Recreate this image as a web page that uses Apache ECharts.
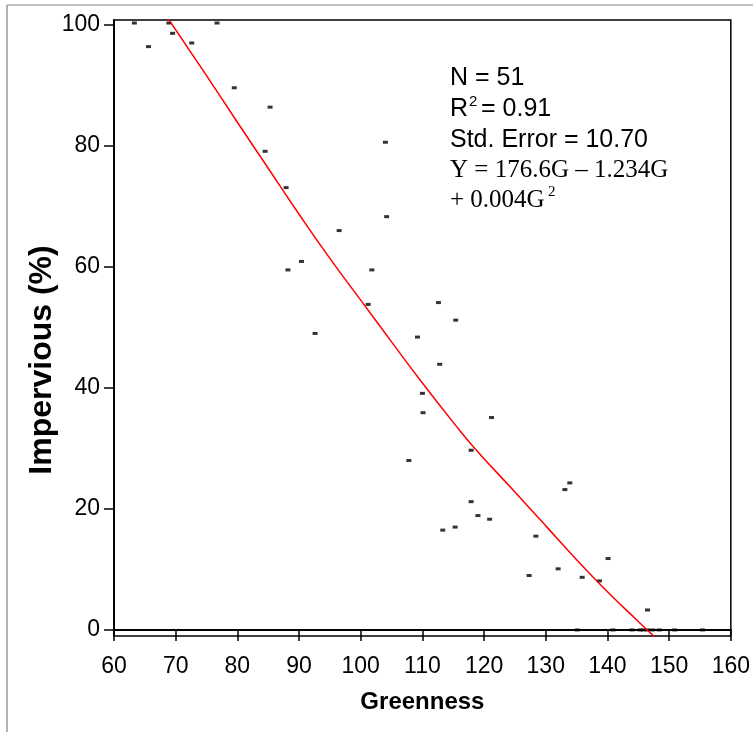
<!DOCTYPE html>
<html>
<head>
<meta charset="utf-8">
<script src="https://cdn.jsdelivr.net/npm/echarts@6/dist/echarts.min.js"></script>
<style>
    html, body { margin: 0; padding: 0; background: #fff; }
    #chart { width: 753px; height: 732px; }
</style>
</head>
<body>
<div id="chart"></div>
<script>
// scatter points
var greenness = [63.3, 65.6, 68.9, 69.5, 72.6, 76.7, 79.5, 84.5, 85.3, 87.9,
    88.2, 90.4, 92.6, 96.5, 101.2, 101.8, 104.0, 104.2, 107.8, 109.2,
    110.0, 110.1, 112.6, 112.8, 113.3, 115.3, 115.4, 117.9, 117.9, 119.0,
    120.9, 121.2, 127.3, 128.4, 132.0, 133.1, 133.9, 135.1, 135.9, 138.7,
    140.1, 140.9, 144.0, 145.3, 145.8, 146.5, 146.5, 147.3, 148.4, 150.9,
    155.4];
var impervious = [100.3, 96.4, 100.3, 98.6, 97.0, 100.3, 89.6, 79.1, 86.4, 73.1,
    59.5, 60.9, 49.0, 66.0, 53.8, 59.5, 80.6, 68.3, 28.0, 48.4,
    39.1, 35.9, 54.1, 43.9, 16.5, 17.0, 51.2, 29.7, 21.2, 18.9,
    18.3, 35.1, 9.0, 15.5, 10.1, 23.2, 24.3, 0, 8.7, 8.1,
    11.8, 0, 0, 0, 0, 3.3, 0, 0, 0, 0,
    0];

// red fitted curve
var fitGreenness = [68.4, 75, 80, 85, 90, 95, 100, 105, 110, 115, 118.5, 125, 130, 135, 140, 145, 147.9];
var fitImpervious = [101.6, 91.6, 83.9, 76.3, 68.7, 61.4, 54.5, 47.6, 40.8, 34.3, 30.0, 22.8, 17.2, 11.6, 6.3, 1.4, -1.4];

var yTicks = [0, 20, 40, 60, 80, 100];

var chart = echarts.init(document.getElementById('chart'), null, {renderer: 'canvas'});

var points = greenness.map(function (g, i) {
    return [g, impervious[i]];
});
var fitLine = fitGreenness.map(function (g, i) {
    return [g, fitImpervious[i]];
});

var sans = '"Liberation Sans", Arial, sans-serif';
var serif = '"Liberation Serif", "Times New Roman", serif';

// small helper for the stats box text
function label(txt, x, y, font) {
    return {type: 'text', x: x, y: y, style: {text: txt, font: font, fill: '#000'}};
}

var option = {
    backgroundColor: '#fff',
    animation: false,
    grid: {
        left: 114, right: 21, top: 20, bottom: 96,
        show: true, borderColor: '#000', borderWidth: 1.5
    },
    xAxis: {
        type: 'value', min: 60, max: 160, interval: 10,
        name: 'Greenness', nameLocation: 'middle', nameGap: 54,
        nameTextStyle: {fontFamily: sans, fontWeight: 'bold', fontSize: 24, color: '#000'},
        axisLine: {lineStyle: {color: '#000', width: 2}},
        axisTick: {length: 11, lineStyle: {color: '#000', width: 1.5}},
        axisLabel: {fontFamily: sans, fontSize: 23, color: '#000', margin: 19},
        splitLine: {show: false}
    },
    yAxis: {
        type: 'value', min: -1, max: 100.8,
        axisLine: {onZero: false, lineStyle: {color: '#000', width: 2}},
        axisTick: {length: 10, customValues: yTicks, lineStyle: {color: '#000', width: 1.5}},
        axisLabel: {fontFamily: sans, fontSize: 23, color: '#000', margin: 14, customValues: yTicks},
        splitLine: {show: false}
    },
    graphic: [
        // grey frame round the figure
        {type: 'line', shape: {x1: 7, y1: 5, x2: 753, y2: 5}, style: {stroke: '#aaa', lineWidth: 1.5}},
        {type: 'line', shape: {x1: 7, y1: 5, x2: 7, y2: 732}, style: {stroke: '#999', lineWidth: 1.5}},
        // y title sits a bit below the middle in the original, so place it by hand
        {
            type: 'text', x: 42, y: 360, rotation: Math.PI / 2,
            style: {
                text: 'Impervious (%)', font: 'bold 32px ' + sans, fill: '#000',
                align: 'center', verticalAlign: 'middle'
            }
        },
        label('N = 51', 450, 66, '25px ' + sans),
        label('R', 450, 97, '25px ' + sans),
        label('2', 469, 94, '15px ' + sans),
        label('= 0.91', 481, 97, '25px ' + sans),
        label('Std. Error = 10.70', 450, 128, '25px ' + sans),
        label('Y = 176.6G \u2013 1.234G', 450, 158, '25px ' + serif),
        label('+ 0.004G', 450, 188, '25px ' + serif),
        label('2', 548, 185, '15px ' + serif)
    ],
    series: [
        {
            type: 'scatter', data: points,
            symbol: 'rect', symbolSize: [5, 3],
            itemStyle: {color: '#000'}
        },
        {
            type: 'line', data: fitLine, showSymbol: false, smooth: true,
            lineStyle: {color: '#f00', width: 1.5}
        }
    ]
};

chart.setOption(option);
</script>
</body>
</html>
